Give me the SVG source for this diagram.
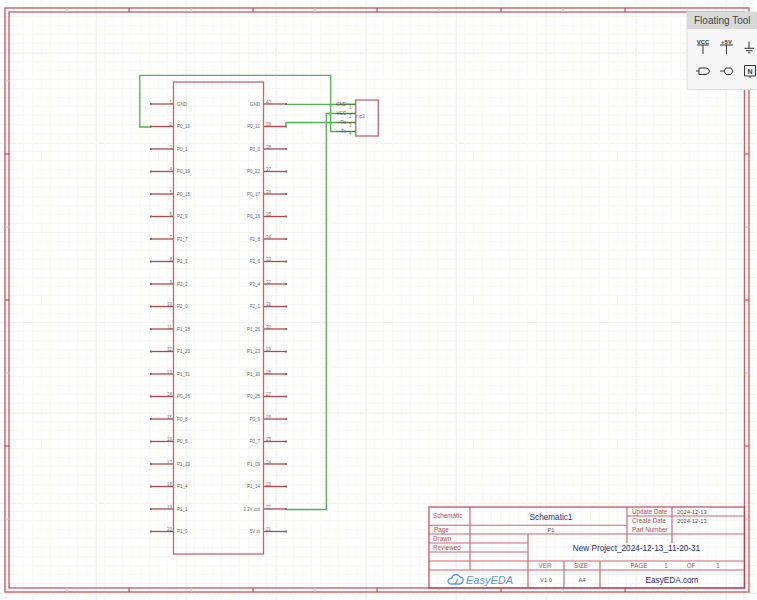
<svg xmlns="http://www.w3.org/2000/svg" width="757" height="600" viewBox="0 0 757 600">
<style>
.f{fill:none;stroke:#bf3a48;stroke-opacity:.8}
.p{stroke:#a8232f;stroke-width:1.3;stroke-opacity:.85;fill:none}
.w{fill:none;stroke:#52b252;stroke-width:1.3}
.t{font-family:"Liberation Sans",Arial,sans-serif;font-size:4.500px;fill:#666}
.n{font-family:"Liberation Sans",Arial,sans-serif;font-size:4.500px;fill:#777}
.tb{font-family:"Liberation Sans",Arial,sans-serif;font-size:6.300px;fill:#ad5058}
.tv{font-family:"Liberation Sans",Arial,sans-serif;font-size:5.800px;fill:#555}
.big{font-family:"Liberation Sans",Arial,sans-serif;font-size:8.200px;fill:#1d2a6b}
.e{text-anchor:end}.m{text-anchor:middle}
.i{font-family:"Liberation Sans",Arial,sans-serif;font-weight:bold;fill:#333;text-anchor:middle}
</style>
<defs>
<pattern id="g" x="6" y="8" width="9" height="9" patternUnits="userSpaceOnUse"><path d="M8.500 0V8.500H0" fill="none" stroke="#f9f8f4" stroke-width="1"/></pattern>
<g id="pl"><path class="p" d="M151 0H173"/><rect x="150" y="-1" width="2" height="2" fill="#777"/></g>
<g id="pr"><path class="p" d="M264 0H286"/><rect x="285" y="-1" width="2" height="2" fill="#777"/></g>
</defs>
<rect width="757" height="600" fill="#fff"/>
<rect width="757" height="600" fill="url(#g)"/>
<path d="M6.500 0V600M96.500 0V600M186.500 0V600M276.500 0V600M366.500 0V600M456.500 0V600M546.500 0V600M636.500 0V600M726.500 0V600M0 53.500H757M0 143.500H757M0 232.500H757M0 322.500H757M0 413.500H757M0 503.500H757M0 593.500H757" stroke="#f3f3f1" fill="none"/>
<g id="frame">
<rect class="f" x="5" y="8" width="744" height="584" stroke-width="1.4"/>
<rect class="f" x="9" y="12" width="735.500" height="576" stroke-width="1.4"/>
<path d="M67 8V12M191 8V12M315 8V12M439 8V12M563 8V12M687 8V12M67 588V592M191 588V592M315 588V592M439 588V592M563 588V592M687 588V592M5 81H9M5 227H9M5 373H9M5 519H9M745 227H749M745 373H749M745 519H749" stroke="#c8c0c0" fill="none"/>
<path d="M129 8V12M253 8V12M377 8V12M501 8V12M625 8V12M129 588V592M253 588V592M377 588V592M501 588V592M625 588V592M5 154H9M5 300H9M5 446H9M745 154H749M745 300H749M745 446H749" stroke="#b5303c" fill="none"/>
</g>
<g id="connectors">
<path class="w" d="M286 104.300H355.500"/>
<path class="w" d="M286 127V122.500H355.500"/>
<path class="w" d="M151 127H139.800V75.300H330.700V131.500H355.500"/>
<path class="w" d="M286 509.500H326.300V113.500H355.500"/>
</g>
<g id="u1">
<rect class="f" x="173.500" y="82" width="90" height="472" stroke-width="1.3"/>
<g id="u1-left">
<use href="#pl" y="104"/><use href="#pl" y="126.500"/><use href="#pl" y="149"/><use href="#pl" y="171.500"/><use href="#pl" y="194"/><use href="#pl" y="216.500"/><use href="#pl" y="239"/><use href="#pl" y="261.500"/><use href="#pl" y="284"/><use href="#pl" y="306.500"/><use href="#pl" y="329"/><use href="#pl" y="351.500"/><use href="#pl" y="374"/><use href="#pl" y="396.500"/><use href="#pl" y="419"/><use href="#pl" y="441.500"/><use href="#pl" y="464"/><use href="#pl" y="486.500"/><use href="#pl" y="509"/><use href="#pl" y="531.500"/>
<g class="t" transform="translate(0,-0.500)">
<text x="177" y="106">GND</text><text x="177" y="128.500">P0_10</text><text x="177" y="151">P0_1</text><text x="177" y="173.500">P0_19</text><text x="177" y="196">P0_15</text><text x="177" y="218.500">P2_9</text><text x="177" y="241">P2_7</text><text x="177" y="263.500">P2_3</text><text x="177" y="286">P2_2</text><text x="177" y="308.500">P2_0</text><text x="177" y="331">P1_28</text><text x="177" y="353.500">P1_20</text><text x="177" y="376">P1_31</text><text x="177" y="398.500">P0_26</text><text x="177" y="421">P0_8</text><text x="177" y="443.500">P0_6</text><text x="177" y="466">P1_29</text><text x="177" y="488.500">P1_4</text><text x="177" y="511">P1_1</text><text x="177" y="533.500">P1_0</text>
</g>
<g class="n e" transform="translate(0,0.500)">
<text x="172" y="103">1</text><text x="172" y="125.500">2</text><text x="172" y="148">3</text><text x="172" y="170.500">4</text><text x="172" y="193">5</text><text x="172" y="215.500">6</text><text x="172" y="238">7</text><text x="172" y="260.500">8</text><text x="172" y="283">9</text><text x="172" y="305.500">10</text><text x="172" y="328">11</text><text x="172" y="350.500">12</text><text x="172" y="373">13</text><text x="172" y="395.500">14</text><text x="172" y="418">15</text><text x="172" y="440.500">16</text><text x="172" y="463">17</text><text x="172" y="485.500">18</text><text x="172" y="508">19</text><text x="172" y="530.500">20</text>
</g>
</g>
<g id="u1-right">
<use href="#pr" y="104"/><use href="#pr" y="126.500"/><use href="#pr" y="149"/><use href="#pr" y="171.500"/><use href="#pr" y="194"/><use href="#pr" y="216.500"/><use href="#pr" y="239"/><use href="#pr" y="261.500"/><use href="#pr" y="284"/><use href="#pr" y="306.500"/><use href="#pr" y="329"/><use href="#pr" y="351.500"/><use href="#pr" y="374"/><use href="#pr" y="396.500"/><use href="#pr" y="419"/><use href="#pr" y="441.500"/><use href="#pr" y="464"/><use href="#pr" y="486.500"/><use href="#pr" y="509"/><use href="#pr" y="531.500"/>
<g class="t e" transform="translate(0,-0.500)">
<text x="260" y="106">GND</text><text x="260" y="128.500">P0_11</text><text x="260" y="151">P0_0</text><text x="260" y="173.500">P0_22</text><text x="260" y="196">P0_17</text><text x="260" y="218.500">P0_16</text><text x="260" y="241">P2_8</text><text x="260" y="263.500">P2_6</text><text x="260" y="286">P2_4</text><text x="260" y="308.500">P2_1</text><text x="260" y="331">P1_26</text><text x="260" y="353.500">P1_23</text><text x="260" y="376">P1_30</text><text x="260" y="398.500">P0_25</text><text x="260" y="421">P0_9</text><text x="260" y="443.500">P0_7</text><text x="260" y="466">P1_09</text><text x="260" y="488.500">P1_14</text><text x="260" y="511">3.3V out</text><text x="260" y="533.500">5V in</text>
</g>
<g class="n" transform="translate(1,0.500)">
<text x="265" y="103">40</text><text x="265" y="125.500">39</text><text x="265" y="148">38</text><text x="265" y="170.500">37</text><text x="265" y="193">36</text><text x="265" y="215.500">35</text><text x="265" y="238">34</text><text x="265" y="260.500">33</text><text x="265" y="283">32</text><text x="265" y="305.500">31</text><text x="265" y="328">30</text><text x="265" y="350.500">29</text><text x="265" y="373">28</text><text x="265" y="395.500">27</text><text x="265" y="418">26</text><text x="265" y="440.500">25</text><text x="265" y="463">24</text><text x="265" y="485.500">23</text><text x="265" y="508">22</text><text x="265" y="530.500">21</text>
</g>
</g>
</g>
<g id="u2">
<rect class="f" x="355.700" y="100" width="22.600" height="36" stroke-width="1.3"/>
<path d="M336 104.300H355.500M336 113.500H355.500M336 122.500H355.500M336 131.500H355.500" fill="none" stroke="#4e7a3a" stroke-width="1.100"/>
<text class="t e" x="346" y="105.800">GND</text><text class="t e" x="346" y="115">VCC</text><text class="t e" x="346" y="124">Rx</text><text class="t e" x="346" y="133">Tx</text>
<text class="n" x="349" y="108.500">1</text><text class="n" x="349" y="117.500">2</text><text class="n" x="349" y="126.500">3</text><text class="n" x="349" y="135">4</text>
<text x="356" y="117.500" style="font-family:'Liberation Sans',Arial,sans-serif;font-size:4.500px;fill:#6a6aff">mp3</text>
</g>
<g id="title-block">
<rect class="f" x="429" y="507" width="315.500" height="81" stroke-width="1.4"/>
<path class="f" stroke-width="1.100" d="M429 525.300H627M627 516H744.500M429 534H744.500M429 543H528M429 552H528M429 561H744.500M429 570H744.500M470 507V570M627 507V543M672 507V543M528 534V588M564 561V588M600 561V588"/>
<g class="tb">
<text x="433" y="518">Schematic</text><text x="434" y="531.500">Page</text><text x="433" y="541">Drawn</text><text x="433" y="550">Reviewed</text>
<text x="632" y="514">Update Date</text><text x="632" y="523">Create Date</text><text x="632" y="531.500">Part Number</text>
<text x="545" y="568" class="m">VER</text><text x="581" y="568" class="m">SIZE</text><text x="639" y="567.500" class="m">PAGE</text><text x="666" y="567.500" class="m">1</text><text x="691" y="567.500" class="m">OF</text><text x="718" y="567.500" class="m">1</text>
</g>
<g class="tv">
<text x="677" y="514">2024-12-13</text><text x="677" y="523">2024-12-13</text>
<text x="546" y="582" class="m">V1.0</text><text x="582" y="582" class="m">A4</text>
<text x="551" y="531.500" class="m">P1</text>
</g>
<text x="551" y="519.500" class="m big">Schematic1</text>
<text x="636.500" y="550.500" class="m big">New Project_2024-12-13_11-20-31</text>
<text x="672" y="583" class="m big">EasyEDA.com</text>
<path d="M452 584H459Q463 584 463 580Q463 577 460 577Q458 574 455 575Q452 575 452 578Q448 579 448 581Q448 584 452 584ZM455 584L458 579" fill="none" stroke="#5b97ee" stroke-width="1.300"/>
<text x="466" y="584" style="font-family:'Liberation Sans',Arial,sans-serif;font-size:11px;font-style:italic;fill:#5b97ee">EasyEDA</text>
</g>
<g id="floating-tool">
<rect x="687" y="12" width="72" height="77.500" fill="#f7f7f7" stroke="#dcdcdc"/>
<rect x="687" y="12" width="70" height="17" fill="#d9d9d9"/>
<text x="694" y="24" style="font-family:'Liberation Sans',Arial,sans-serif;font-size:10px;fill:#444">Floating Tool</text>
<g fill="none" stroke="#333" stroke-width="1">
<path d="M697 45H709M703 45V54M720 45H733M726.500 45V54M749 41.500V48.300M744.500 48.300H754M746 50.700H752.500M748 52.800H750.500"/>
<path d="M696 71H699M699 68H706Q709 68 709.500 71Q709 74 706 74.500H699Z"/>
<path d="M720 71H724M724 71L726 68H731L733 71L731 74.500H726Z"/>
<path d="M744.500 65.500H755.500V76H744.500ZM750 76V78"/>
</g>
<text x="703" y="44" class="i" font-size="6">VCC</text>
<text x="726.500" y="44" class="i" font-size="6">+5V</text>
<text x="750" y="73.500" class="i" font-size="7">N</text>
</g>
</svg>
